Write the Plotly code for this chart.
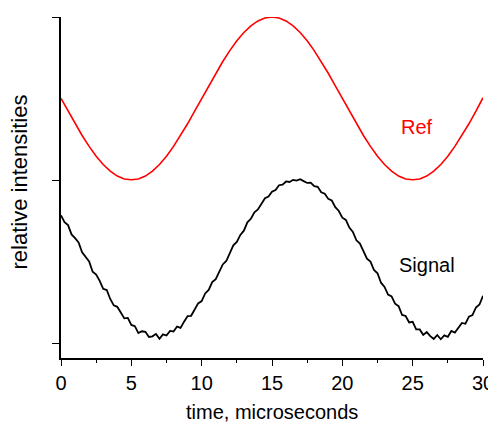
import plotly.graph_objects as go

# time axis (microseconds)
t_ref = [i * 0.5 for i in range(61)]
ref_values = [
    1.500, 1.422, 1.345, 1.273, 1.206, 1.146, 1.095, 1.054, 1.024, 1.006,
    1.002, 1.006, 1.024, 1.054, 1.095, 1.146, 1.206, 1.273, 1.345, 1.422,
    1.500, 1.578, 1.655, 1.727, 1.794, 1.854, 1.905, 1.946, 1.976, 1.994,
    2.000, 1.994, 1.976, 1.946, 1.905, 1.854, 1.794, 1.727, 1.655, 1.578,
    1.500, 1.422, 1.345, 1.273, 1.206, 1.146, 1.095, 1.054, 1.024, 1.006,
    1.002, 1.006, 1.024, 1.054, 1.095, 1.146, 1.206, 1.273, 1.345, 1.422,
    1.505,
]

t_sig = [i * 0.25 for i in range(121)]
signal_values = [
    0.783, 0.741, 0.723, 0.666, 0.643, 0.617, 0.557, 0.526, 0.500, 0.437,
    0.420, 0.381, 0.332, 0.325, 0.270, 0.231, 0.222, 0.187, 0.151, 0.154,
    0.111, 0.103, 0.061, 0.072, 0.069, 0.037, 0.041, 0.056, 0.026, 0.053,
    0.046, 0.074, 0.071, 0.101, 0.093, 0.131, 0.165, 0.167, 0.205, 0.243,
    0.257, 0.304, 0.326, 0.374, 0.392, 0.441, 0.482, 0.503, 0.553, 0.599,
    0.620, 0.663, 0.689, 0.740, 0.762, 0.802, 0.819, 0.858, 0.888, 0.898,
    0.928, 0.939, 0.968, 0.972, 0.991, 0.988, 1.001, 0.996, 1.005, 0.993,
    0.982, 0.984, 0.962, 0.958, 0.925, 0.916, 0.884, 0.874, 0.833, 0.810,
    0.769, 0.755, 0.708, 0.681, 0.630, 0.610, 0.567, 0.517, 0.499, 0.448,
    0.428, 0.370, 0.344, 0.297, 0.286, 0.241, 0.226, 0.172, 0.166, 0.126,
    0.130, 0.084, 0.083, 0.050, 0.067, 0.042, 0.025, 0.049, 0.023, 0.047,
    0.038, 0.074, 0.064, 0.095, 0.123, 0.118, 0.162, 0.171, 0.218, 0.236,
    0.290,
]

x_ticks = [0, 5, 10, 15, 20, 25, 30]
y_ticks = [0, 1, 2]

FONT = "Liberation Sans, Arial, sans-serif"

fig = go.Figure()
fig.add_trace(go.Scatter(x=t_ref, y=ref_values, mode="lines",
                         line=dict(color="#ff0000", width=1.6), showlegend=False))
fig.add_trace(go.Scatter(x=t_sig, y=signal_values, mode="lines",
                         line=dict(color="#000000", width=1.8), showlegend=False))

fig.add_annotation(x=25.3, y=1.325, text="Ref", showarrow=False,
                   font=dict(family=FONT, size=20, color="#ff0000"))
fig.add_annotation(x=26.0, y=0.48, text="Signal", showarrow=False,
                   font=dict(family=FONT, size=20, color="#000000"))

# axis titles
fig.add_annotation(xref="paper", yref="paper", x=0.5, y=-0.158,
                   xanchor="center", yanchor="middle", showarrow=False,
                   text="time, microseconds", font=dict(family=FONT, size=20))
fig.add_annotation(xref="paper", yref="paper", x=-0.0985, y=0.516,
                   xanchor="center", yanchor="middle", showarrow=False, textangle=-90,
                   borderpad=0,
                   text="relative intensities", font=dict(family=FONT, size=22))

# page body has an 8px default margin, so the figure is sized to fit inside it
fig.update_layout(
    width=488, height=414,
    margin=dict(l=53, r=13, t=9, b=64),
    paper_bgcolor="white", plot_bgcolor="white",
    font=dict(family=FONT, size=20, color="black"),
    xaxis=dict(
        range=[0, 30], tickvals=x_ticks, ticktext=[str(v) for v in x_ticks],
        showline=True, linecolor="black", linewidth=1.5,
        ticks="outside", ticklen=6, tickwidth=1.2, tickcolor="black",
        minor=dict(dtick=2.5, ticks="outside", ticklen=3, tickwidth=1.2, tickcolor="black"),
        showgrid=False, zeroline=False, automargin=False,
    ),
    yaxis=dict(
        range=[-0.092, 2.0], tickvals=y_ticks, showticklabels=False,
        showline=True, linecolor="black", linewidth=1.5,
        ticks="outside", ticklen=7, tickwidth=1.2, tickcolor="black",
        showgrid=False, zeroline=False, automargin=False,
    ),
)

fig.write_html("out.html")
